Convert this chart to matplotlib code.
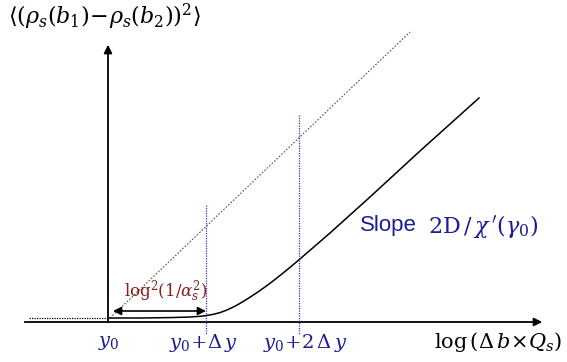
import matplotlib.pyplot as plt

# schematic (x to the right, y downward, pixel-like units)
curve_x = [110, 140, 170, 190, 200, 206, 213, 220, 227, 235, 242, 250, 257, 265,
           272, 280, 290, 299, 315, 330, 370, 420, 479]
curve_y = [318, 318, 317.6, 317, 316.3, 315.6, 314.4, 312.6, 310, 306.2, 302.2, 297.2,
           292.6, 287, 281.8, 275.5, 267.4, 259.8, 246, 233, 197, 151, 98]

dotted_x = [110, 410]
dotted_y = [318, 32]

floor_x = [29, 110]
floor_y = [318, 318]

ticks_x = [206, 299]
ticks_top = [205, 115]
tick_labels = [r'$y_0$', r'$y_0\!+\!\Delta\,y$', r'$y_0\!+\!2\,\Delta\,y$']
tick_label_x = [109, 203, 305]

origin = (108, 322)
x_end = 545
y_end = 42

blue = '#1c1c96'
red = '#8b1a1a'

plt.rcParams['mathtext.fontset'] = 'dejavuserif'

fig = plt.figure(figsize=(5.67, 3.62), dpi=100)
ax = fig.add_axes([0, 0, 1, 1])
ax.set_xlim(0, 567)
ax.set_ylim(362, 0)
ax.axis('off')

# axes with arrow heads
ax.plot([25, x_end - 10], [origin[1], origin[1]], color='black', lw=1.3)
ax.annotate('', xy=(x_end, origin[1]), xytext=(x_end - 12, origin[1]),
            arrowprops=dict(arrowstyle='-|>', color='black', lw=1.3, mutation_scale=12))
ax.plot([origin[0], origin[0]], [origin[1], y_end + 10], color='black', lw=1.3)
ax.annotate('', xy=(origin[0], y_end), xytext=(origin[0], y_end + 12),
            arrowprops=dict(arrowstyle='-|>', color='black', lw=1.3, mutation_scale=12))

# curves
ax.plot(floor_x, floor_y, color='black', lw=0.9, ls=(0, (1, 1)))
ax.plot(dotted_x, dotted_y, color='#555555', lw=0.8, ls=(0, (1.5, 1.5)))
ax.plot(curve_x, curve_y, color='black', lw=1.1)

# blue dotted guide lines
for tx, top in zip(ticks_x, ticks_top):
    ax.plot([tx, tx], [top, 334], color='#3535c0', lw=0.9, ls=(0, (1, 1)))

# double arrow
ax.annotate('', xy=(113, 311), xytext=(206, 311),
            arrowprops=dict(arrowstyle='<|-|>', color='black', lw=1.2, mutation_scale=12,
                            shrinkA=0, shrinkB=0))

# texts
for lx, lab in zip(tick_label_x, tick_labels):
    ax.text(lx, 343, lab, color=blue, fontsize=14, ha='center', va='center')

ax.text(105, 17, r'$\langle(\rho_s(b_1)\!-\!\rho_s(b_2))^2\rangle$', fontsize=16,
        ha='center', va='center')
ax.text(498, 342, r'$\mathrm{log}\,(\Delta\,b\!\times\!Q_s)$', fontsize=15,
        ha='center', va='center')
ax.text(166, 292, r'$\mathrm{log}^2(1/\alpha_s^2)$', color=red, fontsize=12,
        ha='center', va='center')
ax.text(360, 226, 'Slope', color=blue, fontsize=16, ha='left', va='center',
        family='Liberation Sans')
ax.text(428, 226, r"$\mathrm{2D}\,/\,\chi\,'(\gamma_0)$", color=blue, fontsize=16,
        ha='left', va='center')

fig.savefig('out.png', dpi=100)
